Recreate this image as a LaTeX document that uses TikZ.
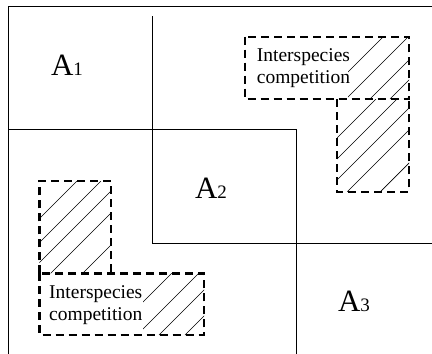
\documentclass[tikz,border=0pt]{standalone}
\usepackage{fontspec}
\setmainfont{Liberation Serif}
\usepackage{tikz}
% hatch lines x+y=c inside a box: {x1}{y1}{x2}{y2}{c list}
\newcommand{\hatchbox}[5]{%
  \begin{scope}
    \clip (#1,#2) rectangle (#3,#4);
    \foreach \c in {#5} \draw[hatch] ({\c-#4},#4) -- ({\c-#2},#2);
  \end{scope}}

\begin{document}
\begin{tikzpicture}[x=1pt, y=-1pt,
  zone/.style={line width=0.8pt},
  comp/.style={line width=2.4pt, dash pattern=on 8pt off 5pt},
  hatch/.style={line width=0.7pt},
  lbl/.style={font=\fontsize{31}{31}\selectfont, inner sep=0pt, anchor=base},
  txt/.style={font=\fontsize{19.5}{21.7}\selectfont, align=left, inner sep=0pt, anchor=west}]
\useasboundingbox (0,0) rectangle (432,354);

% zone boundaries
\draw[zone] (8,354) -- (8,6) -- (432,6);
\draw[zone] (152.7,16) -- (152.7,243) -- (432,243);
\draw[zone] (8,129) -- (296.7,129) -- (296.7,354);

\node[lbl] (a1) at (67,75) {A{\fontsize{19}{19}\selectfont 1}};
\node[lbl] (a2) at (211,198) {A{\fontsize{19}{19}\selectfont 2}};
\node[lbl] (a3) at (354,311) {A{\fontsize{19}{19}\selectfont 3}};

% upper right competition zone
\hatchbox{348}{36.7}{409}{99}{420,445,469,489,506}
\hatchbox{337}{99}{409}{191.7}{475,496,517,539,572}
\draw[comp] (245,36.7) rectangle (409,99);
\draw[comp] (337,99) -- (337,191.7) -- (409,191.7) -- (409,99);
\node[txt] (c1) at (256.7,68) {Interspecies\\competition};

% lower left competition zone
\hatchbox{39.3}{181}{111}{273.3}{258,282,302,324,356}
\hatchbox{143}{273.3}{204}{335}{445,472,494,520}
\draw[comp] (39.3,273.3) -- (39.3,181) -- (111,181) -- (111,273.3);
\draw[comp] (39.3,273.3) rectangle (204,335);
\node[txt] (c2) at (49,305) {Interspecies\\competition};
\end{tikzpicture}
\end{document}
